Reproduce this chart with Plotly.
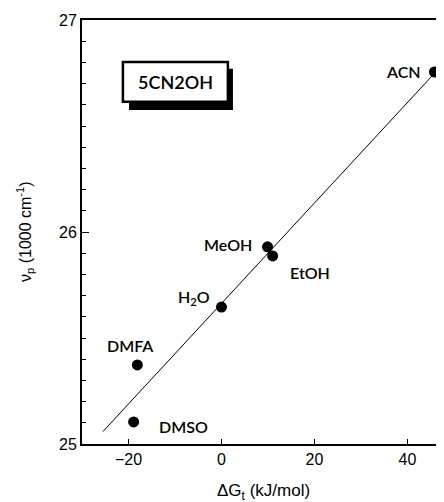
import plotly.graph_objects as go

solvents = ["ACN", "MeOH", "EtOH", "H<sub>2</sub>O", "DMFA", "DMSO"]
dG = [45.8, 9.9, 11.0, 0.0, -18.1, -18.9]
nu_p = [26.755, 25.93, 25.887, 25.646, 25.373, 25.104]

fit_slope = 0.0237
fit_intercept = 25.663
fit_x = [-25.5, 50.0]
fit_y = [fit_intercept + fit_slope * x for x in fit_x]

x_ticks = [-20, 0, 20, 40]
y_ticks = [25, 26, 27]

# label placement (anchor, xshift, yshift)
label_pos = [("right", -11, 0), ("right", -14, 2), ("left", 15, -17),
             ("right", -10, 10), ("center", -7, 19), ("left", 23, -5)]

fig = go.Figure()
fig.add_trace(go.Scatter(x=fit_x, y=fit_y, mode="lines",
                         line=dict(color="black", width=1), showlegend=False))
fig.add_trace(go.Scatter(x=dG, y=nu_p, mode="markers",
                         marker=dict(color="black", size=11), showlegend=False,
                         cliponaxis=False))

for s, x, y, (anc, xs, ys) in zip(solvents, dG, nu_p, label_pos):
    fig.add_annotation(x=x, y=y, text=s, showarrow=False, xanchor=anc,
                       yanchor="middle", xshift=xs, yshift=ys,
                       font=dict(family="Lato", size=16, color="black", weight=600))

# boxed compound label with shadow
fig.add_shape(type="rect", xref="paper", yref="paper", x0=0.130, x1=0.417,
              y0=0.788, y1=0.885, fillcolor="black", line=dict(width=0), layer="above")
fig.add_shape(type="rect", xref="paper", yref="paper", x0=0.113, x1=0.403,
              y0=0.807, y1=0.901, fillcolor="white", line=dict(color="black", width=2.5),
              layer="above")
fig.add_annotation(xref="paper", yref="paper", x=0.258, y=0.854, text="5CN2OH",
                   xanchor="center", yanchor="middle",
                   showarrow=False, font=dict(family="Lato", size=18, color="black", weight=600))

# axis titles
fig.add_annotation(xref="paper", yref="paper", x=0.5, y=0, yshift=-48,
                   text="ΔG<sub>t</sub> (kJ/mol)", showarrow=False,
                   xanchor="center", yanchor="middle", font=dict(size=17))
fig.add_annotation(xref="paper", yref="paper", x=0, y=0.5, xshift=-57,
                   text="ν<sub>p</sub> (1000 cm<sup>-1</sup>)", showarrow=False,
                   textangle=-90, xanchor="center", yanchor="middle", font=dict(size=16))

fig.update_layout(
    width=436, height=494,
    margin=dict(l=74, r=0, t=12, b=58, autoexpand=False),
    paper_bgcolor="white", plot_bgcolor="white",
    font=dict(family="Liberation Sans, Arial", size=16, color="black"),
    xaxis=dict(range=[-30, 47.85], tickvals=x_ticks, ticks="inside",
               ticklen=5, tickwidth=1, tickcolor="black", showline=True,
               linecolor="black", linewidth=2, mirror=True, showgrid=False,
               zeroline=False, automargin=False),
    yaxis=dict(range=[25, 27], tickvals=y_ticks, ticks="inside", ticklen=7,
               tickwidth=1, tickcolor="black", showline=True, linecolor="black",
               linewidth=2, showgrid=False, zeroline=False, automargin=False,
               minor=dict(dtick=0.1, ticks="inside", ticklen=4, tickcolor="black")),
)

fig.write_html("out.html")
